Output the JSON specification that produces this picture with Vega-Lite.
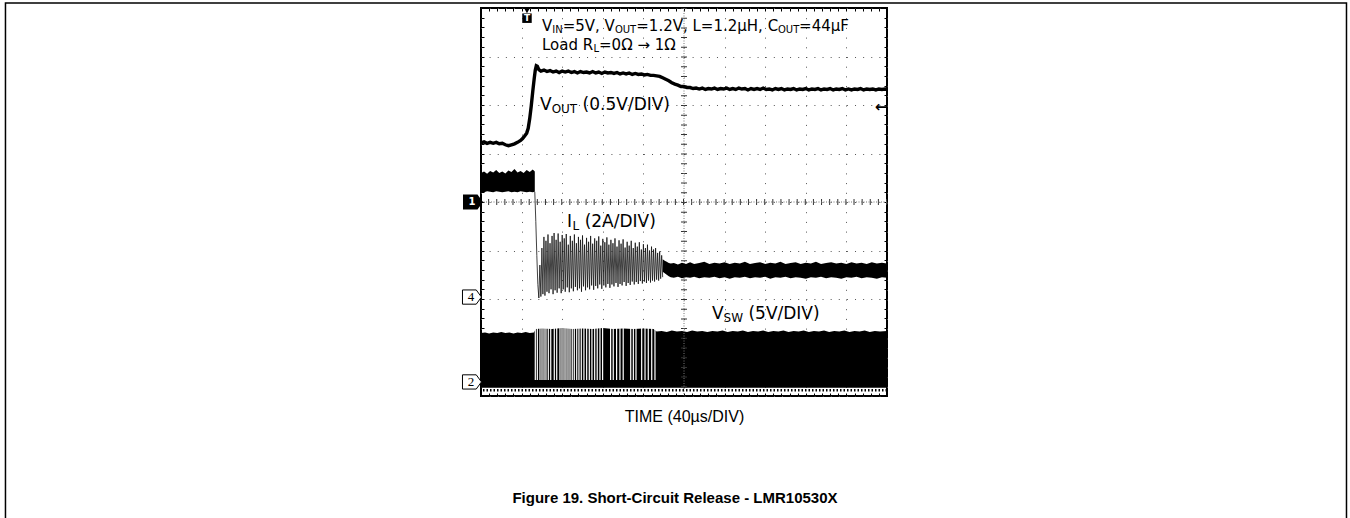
{
  "$schema": "https://vega.github.io/schema/vega-lite/v6.json",
  "width": 406,
  "height": 388,
  "autosize": {"type": "none"},
  "padding": {"left": 481, "top": 8, "right": 463, "bottom": 122},
  "background": "white",
  "config": {"view": {"stroke": "black", "strokeWidth": 2}, "font": "Liberation Sans"},
  "resolve": {"axis": {"x": "independent", "y": "independent"}},
  "datasets": {
    "vsw": [
      {"t":0,"lo":0.17,"hi":1.30},{"t":4,"lo":0.17,"hi":1.31},{"t":8,"lo":0.17,"hi":1.29},{"t":12,"lo":0.17,"hi":1.31},{"t":16,"lo":0.17,"hi":1.30},{"t":20,"lo":0.17,"hi":1.32},{"t":24,"lo":0.17,"hi":1.30},{"t":28,"lo":0.17,"hi":1.31},{"t":32,"lo":0.17,"hi":1.29},{"t":36,"lo":0.17,"hi":1.31},{"t":40,"lo":0.17,"hi":1.30},{"t":44,"lo":0.17,"hi":1.32},{"t":48,"lo":0.17,"hi":1.30},{"t":52,"lo":0.17,"hi":1.31},
      {"t":54,"lo":0.17,"hi":1.38},{"t":60,"lo":0.17,"hi":1.39},{"t":70,"lo":0.17,"hi":1.38},{"t":80,"lo":0.17,"hi":1.40},{"t":90,"lo":0.17,"hi":1.38},{"t":100,"lo":0.17,"hi":1.39},{"t":110,"lo":0.17,"hi":1.38},{"t":120,"lo":0.17,"hi":1.40},{"t":130,"lo":0.17,"hi":1.38},{"t":140,"lo":0.17,"hi":1.39},{"t":150,"lo":0.17,"hi":1.38},{"t":160,"lo":0.17,"hi":1.39},{"t":170,"lo":0.17,"hi":1.38},
      {"t":173,"lo":0.17,"hi":1.33},{"t":178,"lo":0.17,"hi":1.34},{"t":183,"lo":0.17,"hi":1.32},{"t":188,"lo":0.17,"hi":1.35},{"t":193,"lo":0.17,"hi":1.33},{"t":198,"lo":0.17,"hi":1.34},{"t":203,"lo":0.17,"hi":1.32},{"t":208,"lo":0.17,"hi":1.35},{"t":213,"lo":0.17,"hi":1.33},{"t":218,"lo":0.17,"hi":1.34},{"t":223,"lo":0.17,"hi":1.32},{"t":228,"lo":0.17,"hi":1.34},{"t":233,"lo":0.17,"hi":1.33},{"t":238,"lo":0.17,"hi":1.35},{"t":243,"lo":0.17,"hi":1.32},{"t":248,"lo":0.17,"hi":1.34},{"t":253,"lo":0.17,"hi":1.33},{"t":258,"lo":0.17,"hi":1.35},{"t":263,"lo":0.17,"hi":1.32},{"t":268,"lo":0.17,"hi":1.34},{"t":273,"lo":0.17,"hi":1.33},{"t":278,"lo":0.17,"hi":1.35},{"t":283,"lo":0.17,"hi":1.32},{"t":288,"lo":0.17,"hi":1.34},{"t":293,"lo":0.17,"hi":1.33},{"t":298,"lo":0.17,"hi":1.35},{"t":303,"lo":0.17,"hi":1.32},{"t":308,"lo":0.17,"hi":1.34},{"t":313,"lo":0.17,"hi":1.33},{"t":318,"lo":0.17,"hi":1.35},{"t":323,"lo":0.17,"hi":1.32},{"t":328,"lo":0.17,"hi":1.34},{"t":333,"lo":0.17,"hi":1.33},{"t":338,"lo":0.17,"hi":1.35},{"t":343,"lo":0.17,"hi":1.32},{"t":348,"lo":0.17,"hi":1.34},{"t":353,"lo":0.17,"hi":1.33},{"t":358,"lo":0.17,"hi":1.35},{"t":363,"lo":0.17,"hi":1.32},{"t":368,"lo":0.17,"hi":1.34},{"t":373,"lo":0.17,"hi":1.33},{"t":378,"lo":0.17,"hi":1.35},{"t":383,"lo":0.17,"hi":1.32},{"t":388,"lo":0.17,"hi":1.34},{"t":393,"lo":0.17,"hi":1.33},{"t":400,"lo":0.17,"hi":1.34}
    ],
    "gaps": [
      {"t":53.5},{"t":55.5},{"t":58.1},{"t":60.1},{"t":62.1},{"t":64.0},{"t":66.3},{"t":68.7},{"t":72.2},{"t":74.6},{"t":77.8},{"t":79.8},{"t":81.8},{"t":83.7},{"t":85.7},{"t":87.7},{"t":89.9},{"t":91.9},{"t":94.3},{"t":96.5},{"t":98.8},{"t":101.4},{"t":104.1},{"t":106.7},{"t":109.3},{"t":112.0},{"t":114.5},{"t":117.2},{"t":119.8},{"t":127.7},{"t":130.3},{"t":133.6},{"t":136.9},{"t":140.1},{"t":147.5},{"t":150.1},{"t":152.7},{"t":158.3},{"t":161.6},{"t":164.8},{"t":168.2},{"t":171.4}
    ],
    "ilpre": [
      {"t":0,"lo":4.21,"hi":4.60},{"t":3,"lo":4.20,"hi":4.63},{"t":6,"lo":4.22,"hi":4.58},{"t":9,"lo":4.21,"hi":4.64},{"t":12,"lo":4.20,"hi":4.61},{"t":15,"lo":4.22,"hi":4.66},{"t":18,"lo":4.21,"hi":4.60},{"t":21,"lo":4.20,"hi":4.63},{"t":24,"lo":4.21,"hi":4.59},{"t":27,"lo":4.22,"hi":4.65},{"t":30,"lo":4.20,"hi":4.62},{"t":33,"lo":4.21,"hi":4.68},{"t":36,"lo":4.20,"hi":4.61},{"t":39,"lo":4.22,"hi":4.64},{"t":42,"lo":4.21,"hi":4.60},{"t":45,"lo":4.20,"hi":4.66},{"t":48,"lo":4.21,"hi":4.62},{"t":51,"lo":4.20,"hi":4.67},{"t":53,"lo":4.21,"hi":4.63}
    ],
    "ilosc": [
      {"t":53,"v":4.21},{"t":54,"v":3.6},{"t":55,"v":2.9},{"t":56,"v":2.3},{"t":57,"v":2.02},
      {"t":58,"v":2.70},{"t":59,"v":2.05},{"t":60,"v":3.05},{"t":61,"v":2.10},{"t":62,"v":3.28},{"t":63,"v":2.07},{"t":64,"v":3.20},{"t":65,"v":2.15},{"t":66,"v":3.33},{"t":67,"v":2.12},{"t":68,"v":3.15},{"t":69,"v":2.20},{"t":70,"v":3.30},{"t":71,"v":2.10},{"t":72,"v":3.36},{"t":73,"v":2.18},{"t":74,"v":3.22},{"t":75,"v":2.13},{"t":76,"v":3.35},{"t":77,"v":2.22},{"t":78,"v":3.18},{"t":79,"v":2.12},{"t":80,"v":3.32},{"t":81,"v":2.20},{"t":82,"v":3.25},{"t":83,"v":2.15},{"t":84,"v":3.34},{"t":85,"v":2.24},{"t":86,"v":3.12},{"t":87,"v":2.14},{"t":88,"v":3.30},{"t":89,"v":2.22},{"t":90,"v":3.20},{"t":91,"v":2.16},{"t":92,"v":3.33},{"t":93,"v":2.25},{"t":94,"v":3.15},{"t":95,"v":2.18},{"t":96,"v":3.28},{"t":97,"v":2.22},{"t":98,"v":3.22},{"t":99,"v":2.15},{"t":100,"v":3.31},{"t":101,"v":2.26},{"t":102,"v":3.12},{"t":103,"v":2.18},{"t":104,"v":3.26},{"t":105,"v":2.24},{"t":106,"v":3.18},{"t":107,"v":2.20},{"t":108,"v":3.30},{"t":109,"v":2.28},{"t":110,"v":3.14},{"t":111,"v":2.19},{"t":112,"v":3.25},{"t":113,"v":2.27},{"t":114,"v":3.20},{"t":115,"v":2.22},{"t":116,"v":3.29},{"t":117,"v":2.30},{"t":118,"v":3.10},{"t":119,"v":2.21},{"t":120,"v":3.24},{"t":121,"v":2.28},{"t":122,"v":3.17},{"t":123,"v":2.24},{"t":124,"v":3.27},{"t":125,"v":2.31},{"t":126,"v":3.12},{"t":127,"v":2.23},{"t":128,"v":3.22},{"t":129,"v":2.30},{"t":130,"v":3.15},{"t":131,"v":2.26},{"t":132,"v":3.25},{"t":133,"v":2.33},{"t":134,"v":3.08},{"t":135,"v":2.25},{"t":136,"v":3.21},{"t":137,"v":2.31},{"t":138,"v":3.14},{"t":139,"v":2.28},{"t":140,"v":3.23},{"t":141,"v":2.35},{"t":142,"v":3.06},{"t":143,"v":2.27},{"t":144,"v":3.18},{"t":145,"v":2.33},{"t":146,"v":3.10},{"t":147,"v":2.29},{"t":148,"v":3.20},{"t":149,"v":2.36},{"t":150,"v":3.05},{"t":151,"v":2.30},{"t":152,"v":3.16},{"t":153,"v":2.35},{"t":154,"v":3.08},{"t":155,"v":2.31},{"t":156,"v":3.17},{"t":157,"v":2.37},{"t":158,"v":3.02},{"t":159,"v":2.32},{"t":160,"v":3.13},{"t":161,"v":2.36},{"t":162,"v":3.05},{"t":163,"v":2.33},{"t":164,"v":3.12},{"t":165,"v":2.38},{"t":166,"v":3.00},{"t":167,"v":2.34},{"t":168,"v":3.08},{"t":169,"v":2.38},{"t":170,"v":3.02},{"t":171,"v":2.36},{"t":172,"v":3.05},{"t":173,"v":2.40},{"t":174,"v":2.95},{"t":175,"v":2.38},{"t":176,"v":2.98},{"t":177,"v":2.42},{"t":178,"v":2.90},{"t":179,"v":2.45}
    ],
    "ilpost": [
      {"t":179,"lo":2.56,"hi":2.82},{"t":181,"lo":2.53,"hi":2.79},{"t":183,"lo":2.50,"hi":2.77},{"t":185,"lo":2.47,"hi":2.74},{"t":187,"lo":2.45,"hi":2.73},{"t":190,"lo":2.44,"hi":2.74},{"t":194,"lo":2.46,"hi":2.71},{"t":198,"lo":2.43,"hi":2.75},{"t":202,"lo":2.45,"hi":2.72},{"t":206,"lo":2.44,"hi":2.76},{"t":210,"lo":2.46,"hi":2.72},{"t":215,"lo":2.43,"hi":2.74},{"t":220,"lo":2.45,"hi":2.77},{"t":225,"lo":2.44,"hi":2.72},{"t":230,"lo":2.46,"hi":2.75},{"t":235,"lo":2.43,"hi":2.73},{"t":240,"lo":2.45,"hi":2.76},{"t":245,"lo":2.42,"hi":2.72},{"t":250,"lo":2.45,"hi":2.75},{"t":255,"lo":2.44,"hi":2.73},{"t":260,"lo":2.46,"hi":2.77},{"t":265,"lo":2.43,"hi":2.72},{"t":270,"lo":2.45,"hi":2.74},{"t":275,"lo":2.44,"hi":2.76},{"t":280,"lo":2.46,"hi":2.72},{"t":285,"lo":2.42,"hi":2.75},{"t":290,"lo":2.45,"hi":2.73},{"t":295,"lo":2.44,"hi":2.77},{"t":300,"lo":2.46,"hi":2.72},{"t":305,"lo":2.43,"hi":2.74},{"t":310,"lo":2.45,"hi":2.76},{"t":315,"lo":2.44,"hi":2.72},{"t":320,"lo":2.42,"hi":2.75},{"t":325,"lo":2.45,"hi":2.73},{"t":330,"lo":2.44,"hi":2.77},{"t":335,"lo":2.46,"hi":2.72},{"t":340,"lo":2.43,"hi":2.74},{"t":345,"lo":2.45,"hi":2.76},{"t":350,"lo":2.44,"hi":2.73},{"t":355,"lo":2.42,"hi":2.75},{"t":360,"lo":2.45,"hi":2.72},{"t":365,"lo":2.44,"hi":2.76},{"t":370,"lo":2.46,"hi":2.73},{"t":375,"lo":2.43,"hi":2.75},{"t":380,"lo":2.45,"hi":2.72},{"t":385,"lo":2.44,"hi":2.76},{"t":390,"lo":2.42,"hi":2.73},{"t":395,"lo":2.45,"hi":2.75},{"t":400,"lo":2.44,"hi":2.73}
    ],
    "vout": [
      {"t":0,"v":5.22},{"t":3,"v":5.24},{"t":6,"v":5.21},{"t":9,"v":5.23},{"t":12,"v":5.21},{"t":15,"v":5.23},{"t":18,"v":5.20},{"t":21,"v":5.21},{"t":24,"v":5.18},{"t":27,"v":5.16},{"t":30,"v":5.18},{"t":33,"v":5.20},{"t":36,"v":5.23},{"t":39,"v":5.27},{"t":41,"v":5.31},{"t":43,"v":5.36},{"t":45,"v":5.42},{"t":46.5,"v":5.52},{"t":48,"v":5.72},{"t":49.5,"v":5.98},{"t":51,"v":6.28},{"t":52.5,"v":6.56},{"t":53.5,"v":6.72},{"t":54.5,"v":6.81},{"t":55.5,"v":6.80},{"t":57,"v":6.73},{"t":59,"v":6.70},{"t":62,"v":6.72},{"t":65,"v":6.69},{"t":68,"v":6.71},{"t":71,"v":6.68},{"t":74,"v":6.70},{"t":77,"v":6.67},{"t":80,"v":6.70},{"t":83,"v":6.68},{"t":86,"v":6.70},{"t":89,"v":6.67},{"t":92,"v":6.69},{"t":95,"v":6.66},{"t":98,"v":6.69},{"t":101,"v":6.67},{"t":104,"v":6.68},{"t":107,"v":6.66},{"t":110,"v":6.69},{"t":113,"v":6.66},{"t":116,"v":6.68},{"t":119,"v":6.65},{"t":122,"v":6.68},{"t":125,"v":6.66},{"t":128,"v":6.67},{"t":131,"v":6.65},{"t":134,"v":6.67},{"t":137,"v":6.64},{"t":140,"v":6.66},{"t":143,"v":6.64},{"t":146,"v":6.66},{"t":149,"v":6.63},{"t":152,"v":6.65},{"t":155,"v":6.63},{"t":158,"v":6.64},{"t":161,"v":6.62},{"t":164,"v":6.63},{"t":167,"v":6.61},{"t":170,"v":6.61},{"t":173,"v":6.60},{"t":176,"v":6.59},{"t":179,"v":6.56},{"t":182,"v":6.53},{"t":185,"v":6.50},{"t":188,"v":6.46},{"t":191,"v":6.43},{"t":194,"v":6.41},{"t":197,"v":6.38},{"t":200,"v":6.38},{"t":203,"v":6.36},{"t":206,"v":6.36},{"t":209,"v":6.34},{"t":212,"v":6.35},{"t":215,"v":6.33},{"t":218,"v":6.35},{"t":221,"v":6.32},{"t":224,"v":6.34},{"t":227,"v":6.33},{"t":230,"v":6.35},{"t":233,"v":6.32},{"t":236,"v":6.34},{"t":239,"v":6.33},{"t":242,"v":6.35},{"t":245,"v":6.32},{"t":248,"v":6.34},{"t":251,"v":6.32},{"t":254,"v":6.35},{"t":257,"v":6.33},{"t":260,"v":6.34},{"t":263,"v":6.31},{"t":266,"v":6.34},{"t":269,"v":6.32},{"t":272,"v":6.34},{"t":275,"v":6.32},{"t":278,"v":6.35},{"t":281,"v":6.32},{"t":284,"v":6.33},{"t":287,"v":6.31},{"t":290,"v":6.34},{"t":293,"v":6.32},{"t":296,"v":6.34},{"t":299,"v":6.31},{"t":302,"v":6.33},{"t":305,"v":6.32},{"t":308,"v":6.34},{"t":311,"v":6.31},{"t":314,"v":6.33},{"t":317,"v":6.32},{"t":320,"v":6.34},{"t":323,"v":6.31},{"t":326,"v":6.33},{"t":329,"v":6.32},{"t":332,"v":6.34},{"t":335,"v":6.31},{"t":338,"v":6.33},{"t":341,"v":6.32},{"t":344,"v":6.34},{"t":347,"v":6.31},{"t":350,"v":6.33},{"t":353,"v":6.32},{"t":356,"v":6.34},{"t":359,"v":6.31},{"t":362,"v":6.33},{"t":365,"v":6.31},{"t":368,"v":6.33},{"t":371,"v":6.32},{"t":374,"v":6.34},{"t":377,"v":6.31},{"t":380,"v":6.33},{"t":383,"v":6.32},{"t":386,"v":6.33},{"t":389,"v":6.31},{"t":392,"v":6.33},{"t":395,"v":6.32},{"t":398,"v":6.33},{"t":400,"v":6.32}
    ],
    "cx": [{"t":200}],
    "cy": [{"v":4}],
    "floor": [{"v":0.12}],
    "txtA1": [
      {"t":60.1,"v":7.526,"s":"V"},{"t":80.5,"v":7.526,"s":"=5V, V"},{"t":153.0,"v":7.526,"s":"=1.2V, L=1.2µH, C"},{"t":313.4,"v":7.526,"s":"=44µF"},
      {"t":60.1,"v":7.144,"s":"Load R"},{"t":116.3,"v":7.144,"s":"=0Ω → 1Ω"}
    ],
    "txtAs": [
      {"t":70.2,"v":7.485,"s":"IN"},{"t":131.9,"v":7.485,"s":"OUT"},{"t":292.6,"v":7.485,"s":"OUT"},{"t":110.8,"v":7.103,"s":"L"}
    ],
    "txtB": [
      {"t":58.1,"v":5.897,"s":"V"},{"t":100.1,"v":5.897,"s":"(0.5V/DIV)"},
      {"t":84.7,"v":3.485,"s":"I"},{"t":102.1,"v":3.485,"s":"(2A/DIV)"},
      {"t":227.6,"v":1.588,"s":"V"},{"t":263.5,"v":1.588,"s":"(5V/DIV)"}
    ],
    "txtBs": [
      {"t":69.6,"v":5.825,"s":"OUT"},{"t":90.1,"v":3.413,"s":"L"},{"t":239.0,"v":1.516,"s":"SW"}
    ],
    "caption": [{"t":191.1,"v":-2.103,"s":"Figure 19. Short-Circuit Release - LMR10530X"}],
    "badgeFilled": [{"t":-7.9,"v":4,"s":"1"}],
    "badgeOpen": [{"t":-8.9,"v":2.04,"s":"4"},{"t":-8.9,"v":0.29,"s":"2"}],
    "trig": [{"t":45.3,"v":7.79,"s":"T"}],
    "trigTri": [{"t":45.3,"v":7.95}],
    "arrowR": [{"t":394,"v":5.96,"s":"←"}],
    "frame": [{"x1":-468.5,"x2":852.7,"y1":8.103,"y2":-3}]
  },
  "layer": [
    {
      "data": {"name": "vsw"},
      "mark": {"type": "area", "color": "black", "opacity": 1},
      "encoding": {
        "x": {"field": "t", "type": "quantitative", "scale": {"domain": [0, 400], "nice": false, "zero": false},
          "axis": {"orient": "bottom", "values": [0,8,16,24,32,40,48,56,64,72,80,88,96,104,112,120,128,136,144,152,160,168,176,184,192,200,208,216,224,232,240,248,256,264,272,280,288,296,304,312,320,328,336,344,352,360,368,376,384,392,400],
            "labels": false, "domain": false, "ticks": true, "tickSize": -3, "tickColor": "black", "tickWidth": 1,
            "grid": true, "gridColor": "#555", "gridWidth": 1, "gridDash": [1, 8.7],
            "gridOpacity": {"condition": {"test": "datum.value % 40 === 0", "value": 1}, "value": 0},
            "title": "TIME (40µs/DIV)", "titleFont": "Liberation Sans", "titleFontSize": 16, "titleFontWeight": "normal", "titleColor": "black", "titlePadding": 12}},
        "y": {"field": "lo", "type": "quantitative", "scale": {"domain": [0, 8], "nice": false, "zero": false},
          "axis": {"orient": "left", "values": [0,0.2,0.4,0.6,0.8,1,1.2,1.4,1.6,1.8,2,2.2,2.4,2.6,2.8,3,3.2,3.4,3.6,3.8,4,4.2,4.4,4.6,4.8,5,5.2,5.4,5.6,5.8,6,6.2,6.4,6.6,6.8,7,7.2,7.4,7.6,7.8,8],
            "labels": false, "domain": false, "ticks": true, "tickSize": -3, "tickColor": "black", "tickWidth": 1,
            "grid": true, "gridColor": "#555", "gridWidth": 1, "gridDash": [1, 7.12],
            "gridOpacity": {"condition": {"test": "abs(datum.value - round(datum.value)) < 0.001", "value": 1}, "value": 0},
            "title": null}},
        "y2": {"field": "hi"}
      }
    },
    {
      "data": {"name": "ilpre"},
      "mark": {"type": "area", "color": "black", "opacity": 1},
      "encoding": {
        "x": {"field": "t", "type": "quantitative", "scale": {"domain": [0, 400], "nice": false, "zero": false},
          "axis": {"orient": "top", "values": [0,8,16,24,32,40,48,56,64,72,80,88,96,104,112,120,128,136,144,152,160,168,176,184,192,200,208,216,224,232,240,248,256,264,272,280,288,296,304,312,320,328,336,344,352,360,368,376,384,392,400],
            "labels": false, "domain": false, "ticks": true, "tickSize": -3, "tickColor": "black", "tickWidth": 1, "grid": false, "title": null}},
        "y": {"field": "lo", "type": "quantitative", "scale": {"domain": [0, 8], "nice": false, "zero": false},
          "axis": {"orient": "right", "values": [0,0.2,0.4,0.6,0.8,1,1.2,1.4,1.6,1.8,2,2.2,2.4,2.6,2.8,3,3.2,3.4,3.6,3.8,4,4.2,4.4,4.6,4.8,5,5.2,5.4,5.6,5.8,6,6.2,6.4,6.6,6.8,7,7.2,7.4,7.6,7.8,8],
            "labels": false, "domain": false, "ticks": true, "tickSize": -3, "tickColor": "black", "tickWidth": 1, "grid": false, "title": null}},
        "y2": {"field": "hi"}
      }
    },
    {
      "data": {"name": "cx"},
      "mark": {"type": "rule", "color": "#333", "strokeWidth": 6, "strokeDash": [1, 8.7]},
      "encoding": {"x": {"field": "t", "type": "quantitative", "scale": {"domain": [0, 400], "nice": false, "zero": false}, "axis": null}}
    },
    {
      "data": {"name": "cx"},
      "mark": {"type": "rule", "color": "#777", "strokeWidth": 1, "strokeDash": [1, 1.5]},
      "encoding": {"x": {"field": "t", "type": "quantitative", "scale": {"domain": [0, 400], "nice": false, "zero": false}, "axis": null}}
    },
    {
      "data": {"name": "cy"},
      "mark": {"type": "rule", "color": "#333", "strokeWidth": 6, "strokeDash": [1, 7.12]},
      "encoding": {"y": {"field": "v", "type": "quantitative", "scale": {"domain": [0, 8], "nice": false, "zero": false}, "axis": null}}
    },
    {
      "data": {"name": "cy"},
      "mark": {"type": "rule", "color": "#777", "strokeWidth": 1, "strokeDash": [1, 1.5]},
      "encoding": {"y": {"field": "v", "type": "quantitative", "scale": {"domain": [0, 8], "nice": false, "zero": false}, "axis": null}}
    },
    {
      "data": {"name": "gaps"},
      "mark": {"type": "rule", "color": "white", "strokeWidth": 1.2},
      "encoding": {
        "x": {"field": "t", "type": "quantitative", "scale": {"domain": [0, 400], "nice": false, "zero": false}, "axis": null},
        "y": {"datum": 0.33, "type": "quantitative", "scale": {"domain": [0, 8], "nice": false, "zero": false}, "axis": null},
        "y2": {"datum": 1.42}
      }
    },
    {
      "data": {"name": "floor"},
      "mark": {"type": "rule", "color": "black", "strokeWidth": 2.5, "strokeDash": [1.5, 2]},
      "encoding": {"y": {"field": "v", "type": "quantitative", "scale": {"domain": [0, 8], "nice": false, "zero": false}, "axis": null}}
    },
    {
      "data": {"name": "ilosc"},
      "mark": {"type": "line", "color": "#111", "strokeWidth": 0.8},
      "encoding": {
        "x": {"field": "t", "type": "quantitative", "scale": {"domain": [0, 400], "nice": false, "zero": false}, "axis": null},
        "y": {"field": "v", "type": "quantitative", "scale": {"domain": [0, 8], "nice": false, "zero": false}, "axis": null}
      }
    },
    {
      "data": {"name": "ilpost"},
      "mark": {"type": "area", "color": "black", "opacity": 1},
      "encoding": {
        "x": {"field": "t", "type": "quantitative", "scale": {"domain": [0, 400], "nice": false, "zero": false}, "axis": null},
        "y": {"field": "lo", "type": "quantitative", "scale": {"domain": [0, 8], "nice": false, "zero": false}, "axis": null},
        "y2": {"field": "hi"}
      }
    },
    {
      "data": {"name": "vout"},
      "mark": {"type": "line", "color": "black", "strokeWidth": 3.4},
      "encoding": {
        "x": {"field": "t", "type": "quantitative", "scale": {"domain": [0, 400], "nice": false, "zero": false}, "axis": null},
        "y": {"field": "v", "type": "quantitative", "scale": {"domain": [0, 8], "nice": false, "zero": false}, "axis": null}
      }
    },
    {
      "data": {"name": "txtA1"},
      "mark": {"type": "text", "font": "DejaVu Sans", "fontSize": 15, "align": "left", "baseline": "alphabetic", "color": "black"},
      "encoding": {
        "x": {"field": "t", "type": "quantitative", "scale": {"domain": [0, 400], "nice": false, "zero": false}, "axis": null},
        "y": {"field": "v", "type": "quantitative", "scale": {"domain": [0, 8], "nice": false, "zero": false}, "axis": null},
        "text": {"field": "s"}
      }
    },
    {
      "data": {"name": "txtAs"},
      "mark": {"type": "text", "font": "DejaVu Sans", "fontSize": 10, "align": "left", "baseline": "alphabetic", "color": "black"},
      "encoding": {
        "x": {"field": "t", "type": "quantitative", "scale": {"domain": [0, 400], "nice": false, "zero": false}, "axis": null},
        "y": {"field": "v", "type": "quantitative", "scale": {"domain": [0, 8], "nice": false, "zero": false}, "axis": null},
        "text": {"field": "s"}
      }
    },
    {
      "data": {"name": "txtB"},
      "mark": {"type": "text", "font": "DejaVu Sans", "fontSize": 17, "align": "left", "baseline": "alphabetic", "color": "black"},
      "encoding": {
        "x": {"field": "t", "type": "quantitative", "scale": {"domain": [0, 400], "nice": false, "zero": false}, "axis": null},
        "y": {"field": "v", "type": "quantitative", "scale": {"domain": [0, 8], "nice": false, "zero": false}, "axis": null},
        "text": {"field": "s"}
      }
    },
    {
      "data": {"name": "txtBs"},
      "mark": {"type": "text", "font": "DejaVu Sans", "fontSize": 12, "align": "left", "baseline": "alphabetic", "color": "black"},
      "encoding": {
        "x": {"field": "t", "type": "quantitative", "scale": {"domain": [0, 400], "nice": false, "zero": false}, "axis": null},
        "y": {"field": "v", "type": "quantitative", "scale": {"domain": [0, 8], "nice": false, "zero": false}, "axis": null},
        "text": {"field": "s"}
      }
    },
    {
      "data": {"name": "caption"},
      "mark": {"type": "text", "font": "Liberation Sans", "fontWeight": "bold", "fontSize": 15, "align": "center", "baseline": "middle", "color": "black"},
      "encoding": {
        "x": {"field": "t", "type": "quantitative", "scale": {"domain": [0, 400], "nice": false, "zero": false}, "axis": null},
        "y": {"field": "v", "type": "quantitative", "scale": {"domain": [0, 8], "nice": false, "zero": false}, "axis": null},
        "text": {"field": "s"}
      }
    },
    {
      "data": {"name": "badgeFilled"},
      "mark": {"type": "point", "shape": "M-1,-0.75L0.45,-0.75L1,0L0.45,0.75L-1,0.75Z", "size": 400, "filled": true, "color": "black", "opacity": 1},
      "encoding": {
        "x": {"field": "t", "type": "quantitative", "scale": {"domain": [0, 400], "nice": false, "zero": false}, "axis": null},
        "y": {"field": "v", "type": "quantitative", "scale": {"domain": [0, 8], "nice": false, "zero": false}, "axis": null}
      }
    },
    {
      "data": {"name": "badgeFilled"},
      "mark": {"type": "text", "font": "DejaVu Sans", "fontWeight": "bold", "fontSize": 10, "align": "center", "baseline": "middle", "color": "white", "dx": -1},
      "encoding": {
        "x": {"field": "t", "type": "quantitative", "scale": {"domain": [0, 400], "nice": false, "zero": false}, "axis": null},
        "y": {"field": "v", "type": "quantitative", "scale": {"domain": [0, 8], "nice": false, "zero": false}, "axis": null},
        "text": {"field": "s"}
      }
    },
    {
      "data": {"name": "badgeOpen"},
      "mark": {"type": "point", "shape": "M-1,-0.75L0.45,-0.75L1,0L0.45,0.75L-1,0.75Z", "size": 360, "filled": true, "fill": "white", "stroke": "black", "strokeWidth": 1, "opacity": 1},
      "encoding": {
        "x": {"field": "t", "type": "quantitative", "scale": {"domain": [0, 400], "nice": false, "zero": false}, "axis": null},
        "y": {"field": "v", "type": "quantitative", "scale": {"domain": [0, 8], "nice": false, "zero": false}, "axis": null}
      }
    },
    {
      "data": {"name": "badgeOpen"},
      "mark": {"type": "text", "font": "Liberation Serif", "fontSize": 13, "align": "center", "baseline": "middle", "color": "black", "dx": -1},
      "encoding": {
        "x": {"field": "t", "type": "quantitative", "scale": {"domain": [0, 400], "nice": false, "zero": false}, "axis": null},
        "y": {"field": "v", "type": "quantitative", "scale": {"domain": [0, 8], "nice": false, "zero": false}, "axis": null},
        "text": {"field": "s"}
      }
    },
    {
      "data": {"name": "trig"},
      "mark": {"type": "point", "shape": "square", "size": 90, "filled": true, "color": "black", "opacity": 1},
      "encoding": {
        "x": {"field": "t", "type": "quantitative", "scale": {"domain": [0, 400], "nice": false, "zero": false}, "axis": null},
        "y": {"field": "v", "type": "quantitative", "scale": {"domain": [0, 8], "nice": false, "zero": false}, "axis": null}
      }
    },
    {
      "data": {"name": "trig"},
      "mark": {"type": "text", "font": "DejaVu Sans", "fontWeight": "bold", "fontSize": 9, "align": "center", "baseline": "middle", "color": "white"},
      "encoding": {
        "x": {"field": "t", "type": "quantitative", "scale": {"domain": [0, 400], "nice": false, "zero": false}, "axis": null},
        "y": {"field": "v", "type": "quantitative", "scale": {"domain": [0, 8], "nice": false, "zero": false}, "axis": null},
        "text": {"field": "s"}
      }
    },
    {
      "data": {"name": "trigTri"},
      "mark": {"type": "point", "shape": "triangle-down", "size": 40, "filled": true, "color": "black", "opacity": 1},
      "encoding": {
        "x": {"field": "t", "type": "quantitative", "scale": {"domain": [0, 400], "nice": false, "zero": false}, "axis": null},
        "y": {"field": "v", "type": "quantitative", "scale": {"domain": [0, 8], "nice": false, "zero": false}, "axis": null}
      }
    },
    {
      "data": {"name": "arrowR"},
      "mark": {"type": "text", "font": "DejaVu Sans", "fontWeight": "bold", "fontSize": 15, "align": "center", "baseline": "middle", "color": "black"},
      "encoding": {
        "x": {"field": "t", "type": "quantitative", "scale": {"domain": [0, 400], "nice": false, "zero": false}, "axis": null},
        "y": {"field": "v", "type": "quantitative", "scale": {"domain": [0, 8], "nice": false, "zero": false}, "axis": null},
        "text": {"field": "s"}
      }
    },
    {
      "data": {"name": "frame"},
      "mark": {"type": "rect", "filled": false, "stroke": "black", "strokeWidth": 1.5, "clip": false},
      "encoding": {
        "x": {"field": "x1", "type": "quantitative", "scale": {"domain": [0, 400], "nice": false, "zero": false}, "axis": null},
        "x2": {"field": "x2"},
        "y": {"field": "y1", "type": "quantitative", "scale": {"domain": [0, 8], "nice": false, "zero": false}, "axis": null},
        "y2": {"field": "y2"}
      }
    }
  ]
}
